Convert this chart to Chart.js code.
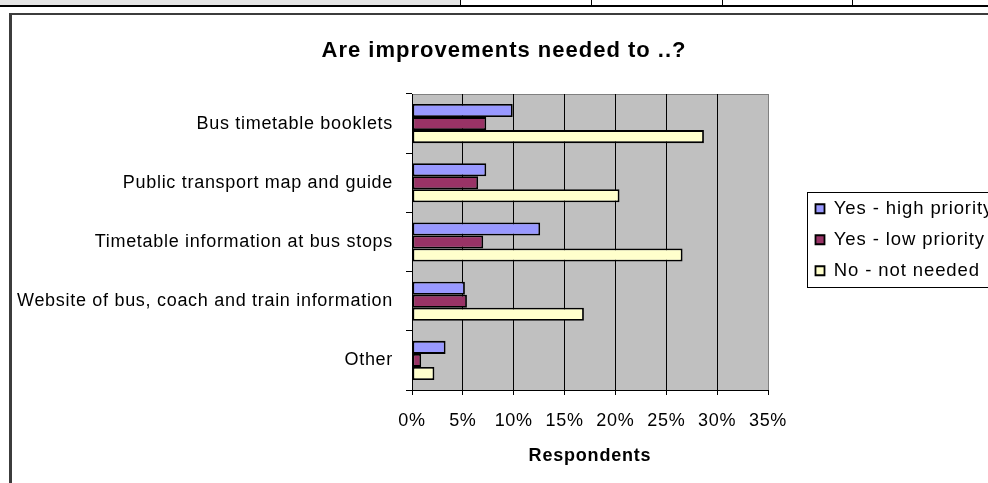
<!DOCTYPE html>
<html><head><meta charset="utf-8">
<script src="https://cdn.jsdelivr.net/npm/chart.js@4.4.0/dist/chart.umd.min.js"></script>
<style>
html,body{margin:0;padding:0;background:#fff;overflow:hidden;width:988px;height:483px;position:relative}
.abs{position:absolute}
</style></head><body>
<div class="abs" style="left:0;top:0;width:460px;height:5px;background:#e4e4e4"></div>
<div class="abs" style="left:0;top:5px;width:988px;height:2px;background:#000"></div>
<div class="abs" style="left:460px;top:0;width:1px;height:5px;background:#000"></div>
<div class="abs" style="left:591px;top:0;width:1px;height:5px;background:#000"></div>
<div class="abs" style="left:722px;top:0;width:1px;height:5px;background:#000"></div>
<div class="abs" style="left:852px;top:0;width:1px;height:5px;background:#000"></div>
<div class="abs" style="left:9px;top:13px;width:1100px;height:600px;border-left:3px solid #3c3c3c;border-top:2px solid #3c3c3c"></div>
<canvas id="c" width="1008" height="483" style="position:absolute;left:0;top:0;width:1008px;height:483px"></canvas>
<script>
const categories = ['Bus timetable booklets','Public transport map and guide','Timetable information at bus stops','Website of bus, coach and train information','Other'];
const highPriority = [9.9, 7.3, 12.6, 5.2, 3.3];
const lowPriority = [7.3, 6.5, 7.0, 5.4, 0.9];
const notNeeded = [28.7, 20.4, 26.6, 16.9, 2.2];
const xTicks = [0, 5, 10, 15, 20, 25, 30, 35];

const cv = document.getElementById('c');
const ctx = cv.getContext('2d');
const rawFill = ctx.fillText;
ctx.fillText = function(t, x, y, mw){
  const f = this.font;
  let ls = '0.7px';
  if (/bold/.test(f)) ls = /22px/.test(f) ? '1px' : '0.8px';
  else if (/18\.5px/.test(f)) ls = '0.9px';
  const prev = this.letterSpacing;
  this.letterSpacing = ls;
  if (mw === undefined) rawFill.call(this, t, x, y); else rawFill.call(this, t, x, y, mw);
  this.letterSpacing = prev;
};

Chart.defaults.font.family = '"Liberation Sans", Arial, sans-serif';
Chart.defaults.color = '#000';

const legendFix = {
  id: 'legendFix',
  beforeInit(chart){
    const lg = chart.legend;
    const f = lg.fit;
    lg.fit = function(){ f.call(this); this.width = 240; };
  },
  afterLayout(chart){
    const lg = chart.legend;
    lg.left = 803; lg.right = 1008; lg.top = 187; lg.bottom = 330;
  }
};
const bg = {
  id: 'bg',
  beforeDraw(ch){
    const c = ch.ctx, a = ch.chartArea;
    c.save();
    c.fillStyle = '#C0C0C0';
    c.fillRect(a.left, a.top, a.right - a.left, a.bottom - a.top);
    c.strokeStyle = '#808080'; c.lineWidth = 1;
    c.beginPath(); c.moveTo(a.left, a.top + 0.5); c.lineTo(a.right, a.top + 0.5); c.stroke();
    c.restore();
  },
  afterDraw(ch){
    const c = ch.ctx;
    c.save();
    c.strokeStyle = '#000'; c.lineWidth = 1;
    c.strokeRect(807.5, 192.5, 400, 95);
    c.restore();
  }
};

new Chart(ctx, {
  type: 'bar',
  data: {
    labels: categories,
    datasets: [
      {label:'Yes - high priority', data: highPriority, backgroundColor:'#9999FF', borderColor:'#000', borderWidth:1.8, borderSkipped:false},
      {label:'Yes - low priority', data: lowPriority, backgroundColor:'#993366', borderColor:'#000', borderWidth:1.8, borderSkipped:false},
      {label:'No - not needed', data: notNeeded, backgroundColor:'#FFFFCC', borderColor:'#000', borderWidth:1.8, borderSkipped:false}
    ]
  },
  options: {
    indexAxis: 'y', responsive: false, animation: false, devicePixelRatio: 1,
    layout: {padding: 0},
    datasets: {bar: {categoryPercentage: 0.66, barPercentage: 1}},
    plugins: {
      title: {display:true, text:'Are improvements needed to ..?', font:{size:22, weight:'bold'}, color:'#000', padding:{top:38, bottom:29.6}},
      legend: {position:'right', align:'start', labels:{boxWidth:9, boxHeight:9, padding:12.5, font:{size:18.5}, color:'#000'}},
      tooltip: {enabled:false}
    },
    scales: {
      x: {
        min: xTicks[0], max: xTicks[xTicks.length-1],
        afterBuildTicks(s){ s.ticks = xTicks.map(v => ({value: v})); },
        ticks: {callback: v => v + '%', font:{size:18}, color:'#000', padding:15},
        grid: {color: c => (c.tick && c.tick.value === 35) ? '#808080' : '#000', tickColor:'#000', tickLength:5, lineWidth:1},
        border: {color:'#000', width:1},
        title: {display:true, text:'Respondents', font:{size:18, weight:'bold'}, color:'#000', padding:{top:0, bottom:16}},
        afterFit(s){ s.height = 93; }
      },
      y: {
        ticks: {font:{size:18}, color:'#000', padding:13},
        grid: {drawOnChartArea:false, tickLength:6, color:'#000'},
        border: {color:'#000', width:1},
        afterFit(s){ s.width = 412; }
      }
    }
  },
  plugins: [legendFix, bg]
});
</script>
</body></html>
